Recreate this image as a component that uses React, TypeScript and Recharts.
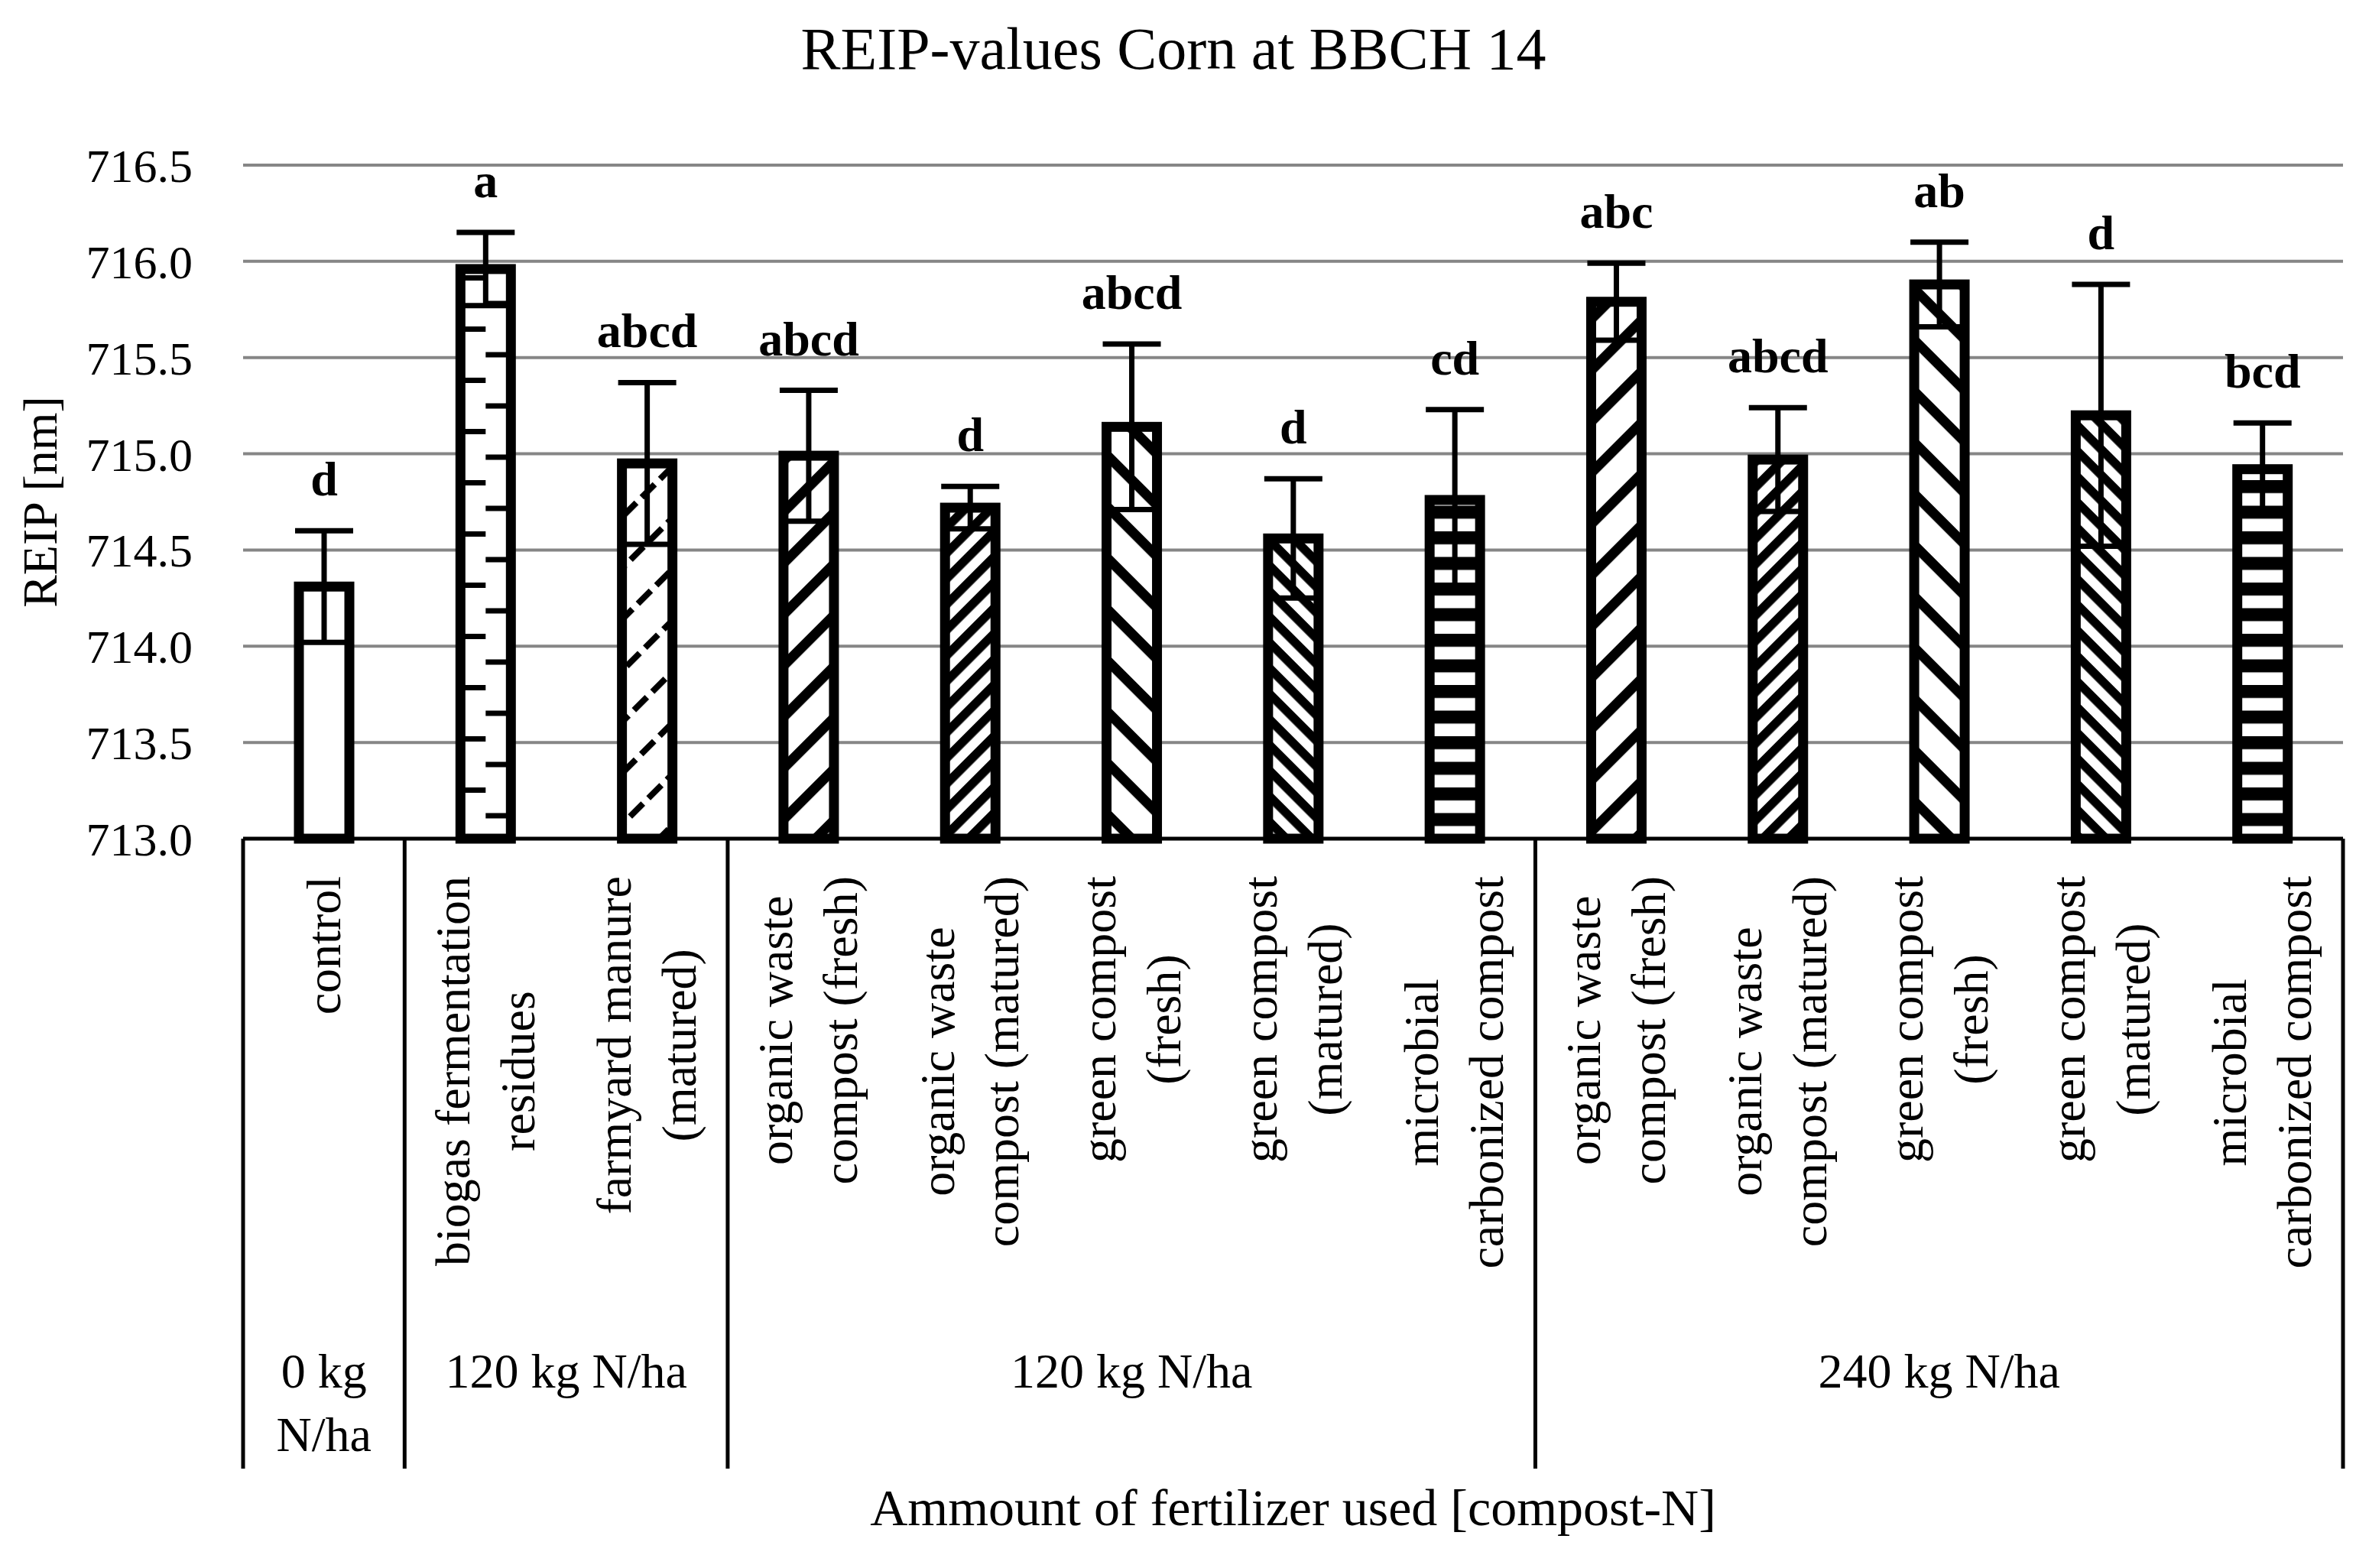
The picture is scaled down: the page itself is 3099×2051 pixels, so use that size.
import { BarChart, Bar, XAxis, YAxis, CartesianGrid, ErrorBar } from "recharts";

// categories (one entry per bar, "\n" splits the label lines)
const CATEGORIES = [
  "control",
  "biogas fermentation\nresidues",
  "farmyard manure\n(matured)",
  "organic waste\ncompost (fresh)",
  "organic waste\ncompost (matured)",
  "green compost\n(fresh)",
  "green compost\n(matured)",
  "microbial\ncarbonized compost",
  "organic waste\ncompost (fresh)",
  "organic waste\ncompost (matured)",
  "green compost\n(fresh)",
  "green compost\n(matured)",
  "microbial\ncarbonized compost"
];

const REIP = [714.31, 715.96, 714.95, 714.99, 714.72, 715.14, 714.56, 714.76, 715.79, 714.97, 715.88, 715.2, 714.92];
const SD = [0.29, 0.19, 0.42, 0.34, 0.11, 0.43, 0.31, 0.47, 0.2, 0.27, 0.22, 0.68, 0.24];
const LETTERS = ["d", "a", "abcd", "abcd", "d", "abcd", "d", "cd", "abc", "abcd", "ab", "d", "bcd"];

const GROUP_LABELS = ["0 kg\nN/ha", "120 kg N/ha", "120 kg N/ha", "240 kg N/ha"];
const GROUP_SIZES = [1, 2, 5, 5];

const Y_TICKS = [713, 713.5, 714, 714.5, 715, 715.5, 716, 716.5];

// fill style per bar
const PATTERNS = [
  "none", "ruler", "dashUp",
  "wideUp", "denseUp", "wideDown", "denseDown", "horiz",
  "wideUp", "denseUp", "wideDown", "denseDown", "horiz"
];

const data = CATEGORIES.map((c, i) => ({
  id: "c" + i,
  value: REIP[i],
  sd: SD[i],
  letter: LETTERS[i]
}));

// layout
const W = 3099;
const H = 2051;
const MARGIN = { top: 216, right: 34, left: 0, bottom: 0 };
const Y_AXIS_W = 318;
const X_AXIS_H = 954;
const PLOT_W = W - MARGIN.left - MARGIN.right - Y_AXIS_W;
const PLOT_H = H - MARGIN.top - MARGIN.bottom - X_AXIS_H;
const BAND = PLOT_W / CATEGORIES.length;
const FONT = "'Liberation Serif', 'Times New Roman', serif";
const Y_MIN = Y_TICKS[0];

const groupStarts: Record<number, number> = {};
{
  let s = 0;
  GROUP_SIZES.forEach((n, g) => {
    groupStarts[s] = g;
    s += n;
  });
}

let ctx: CanvasRenderingContext2D | null = null;
function textWidth(t: string, size: number) {
  if (!ctx) ctx = document.createElement("canvas").getContext("2d");
  if (!ctx) return t.length * size * 0.45;
  ctx.font = `${size}px 'Liberation Serif'`;
  return ctx.measureText(t).width;
}

function makePattern(kind: string, id: string, x: number, y: number, w: number) {
  const bg = <rect x={-200} y={-200} width={400} height={400} fill="#fff" />;
  if (kind === "ruler") {
    return (
      <pattern id={id} patternUnits="userSpaceOnUse" x={x} y={y} width={w} height={67}>
        <rect width={w} height={67} fill="#fff" />
        <rect x={0} y={0} width={w / 2} height={7} fill="#000" />
        <rect x={w / 2} y={33.5} width={w / 2} height={7} fill="#000" />
      </pattern>
    );
  }
  if (kind === "horiz") {
    return (
      <pattern id={id} patternUnits="userSpaceOnUse" x={x} y={y} width={20} height={33.5}>
        <rect width={20} height={33.5} fill="#fff" />
        <rect y={0} width={20} height={17} fill="#000" />
      </pattern>
    );
  }
  if (kind === "dashUp") {
    const p = 47.4;
    return (
      <pattern id={id} patternUnits="userSpaceOnUse" x={x} y={y} width={34} height={p} patternTransform="rotate(-45)">
        {bg}
        <rect x={0} y={0} width={24} height={8} fill="#000" />
      </pattern>
    );
  }
  const wide = kind === "wideUp" || kind === "wideDown";
  const p = wide ? 47.4 : 23.7;
  const t = wide ? 13 : 11.5;
  const rot = kind.endsWith("Up") ? -45 : 45;
  return (
    <pattern id={id} patternUnits="userSpaceOnUse" x={x} y={y} width={20} height={p} patternTransform={`rotate(${rot})`}>
      {bg}
      <rect x={0} y={0} width={20} height={t} fill="#000" />
    </pattern>
  );
}

function PatternBar(props: any) {
  const { x, y, width, height, index, payload } = props;
  const id = `bar-pat-${index}`;
  const kind = PATTERNS[index];
  const perUnit = height / (payload.value - Y_MIN);
  const errTop = y - payload.sd * perUnit;
  return (
    <g>
      {kind !== "none" && <defs>{makePattern(kind, id, x, y + height, width)}</defs>}
      <rect
        x={x}
        y={y}
        width={width}
        height={height}
        fill={kind === "none" ? "#fff" : `url(#${id})`}
        stroke="#000"
        strokeWidth={13}
      />
      <text
        x={x + width / 2}
        y={errTop - 46}
        textAnchor="middle"
        fontFamily={FONT}
        fontWeight="bold"
        fontSize={64}
        fill="#000"
      >
        {payload.letter}
      </text>
    </g>
  );
}

function CategoryTick(props: any) {
  const { x, y, payload } = props;
  const i = payload.index;
  const lines = CATEGORIES[i].split("\n");
  const fs = 64;
  const L = 85;
  const maxLen = Math.max(...lines.map(l => textWidth(l, fs)));
  const top = y + 49;
  const g = groupStarts[i];
  const sepLen = 824;
  return (
    <g>
      <text
        transform={`translate(${x},${top + maxLen / 2}) rotate(-90)`}
        textAnchor="middle"
        fontFamily={FONT}
        fontSize={fs}
        fill="#000"
      >
        {lines.map((l, k) => (
          <tspan key={k} x={0} y={-(L * (lines.length - 1)) / 2 + k * L + 0.33 * fs}>
            {l}
          </tspan>
        ))}
      </text>
      {g !== undefined && (
        <>
          <line x1={x - BAND / 2} x2={x - BAND / 2} y1={y} y2={y + sepLen} stroke="#000" strokeWidth={5} />
          <text
            x={x - BAND / 2 + (GROUP_SIZES[g] * BAND) / 2}
            y={y + 718}
            textAnchor="middle"
            fontFamily={FONT}
            fontSize={fs}
            fill="#000"
          >
            {GROUP_LABELS[g].split("\n").map((l, k) => (
              <tspan key={k} x={x - BAND / 2 + (GROUP_SIZES[g] * BAND) / 2} dy={k === 0 ? 0 : 83}>
                {l}
              </tspan>
            ))}
          </text>
        </>
      )}
      {i === CATEGORIES.length - 1 && (
        <line x1={x + BAND / 2} x2={x + BAND / 2} y1={y} y2={y + sepLen} stroke="#000" strokeWidth={5} />
      )}
    </g>
  );
}

export default function App() {
  return (
    <div style={{ position: "absolute", left: 0, top: 0, width: W, height: H, background: "#fff", fontFamily: FONT }}>
      <BarChart width={W} height={H} data={data} margin={MARGIN} barSize={66}>
        <CartesianGrid vertical={false} stroke="#868686" strokeWidth={4} />
        <XAxis
          dataKey="id"
          height={X_AXIS_H}
          interval={0}
          tickSize={0}
          tickMargin={0}
          tick={<CategoryTick />}
          axisLine={{ stroke: "#000", strokeWidth: 5 }}
          tickLine={false}
        />
        <YAxis
          width={Y_AXIS_W}
          domain={[Y_TICKS[0], Y_TICKS[Y_TICKS.length - 1]]}
          ticks={Y_TICKS}
          tickFormatter={(v: number) => v.toFixed(1)}
          axisLine={false}
          tickLine={false}
          tickSize={0}
          tickMargin={66}
          tick={{ fontSize: 62, fill: "#000", fontFamily: FONT }}
        />
        <Bar dataKey="value" shape={<PatternBar />} isAnimationActive={false}>
          <ErrorBar dataKey="sd" width={38} strokeWidth={7} stroke="#000" direction="y" isAnimationActive={false} />
        </Bar>
      </BarChart>
      <svg width={W} height={H} style={{ position: "absolute", left: 0, top: 0, pointerEvents: "none" }}>
        <text x={1535} y={90} textAnchor="middle" fontFamily={FONT} fontSize={78} fill="#000">
          REIP-values Corn at BBCH 14
        </text>
        <text
          transform={`translate(74,${MARGIN.top + PLOT_H / 2}) rotate(-90)`}
          textAnchor="middle"
          fontFamily={FONT}
          fontSize={64}
          fill="#000"
        >
          REIP [nm]
        </text>
        <text
          x={MARGIN.left + Y_AXIS_W + PLOT_W / 2}
          y={1995}
          textAnchor="middle"
          fontFamily={FONT}
          fontSize={68}
          fill="#000"
        >
          Ammount of fertilizer used [compost-N]
        </text>
      </svg>
    </div>
  );
}
